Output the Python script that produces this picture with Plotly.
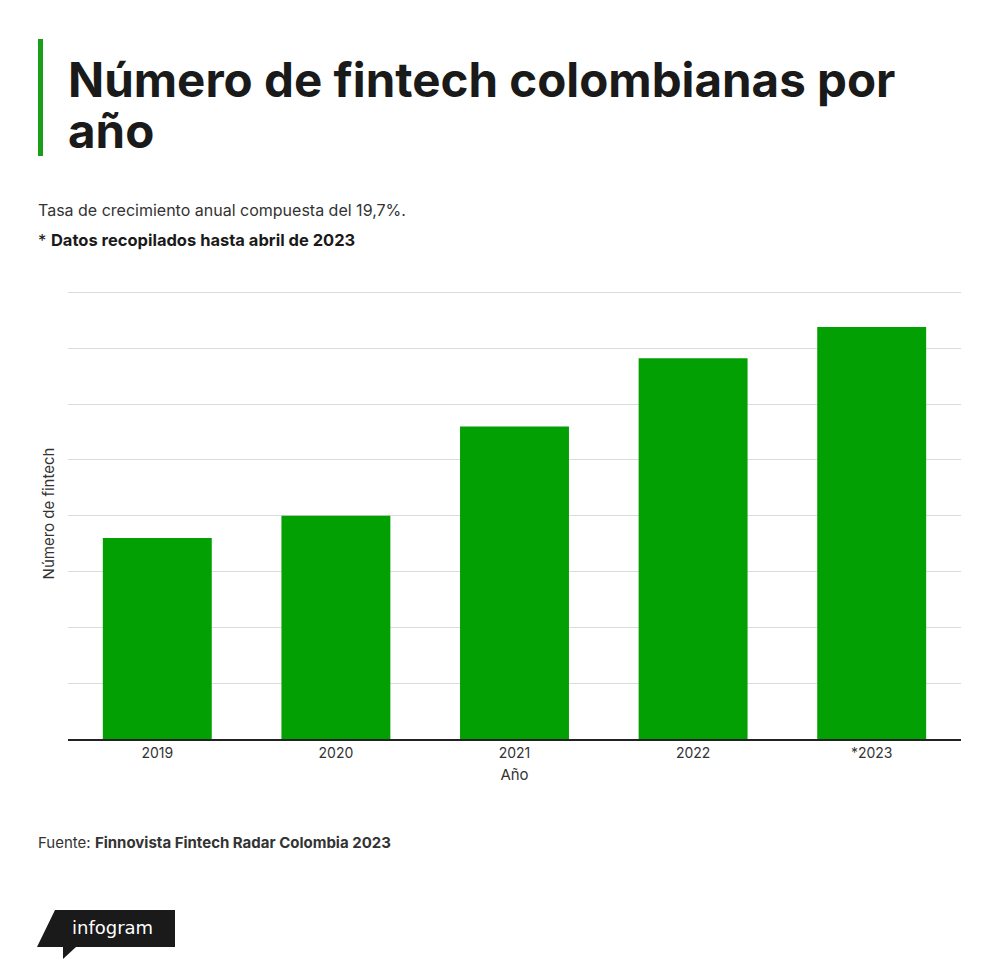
import plotly.graph_objects as go

# data
years = ["2019", "2020", "2021", "2022", "*2023"]
fintechs = [180, 200, 280, 341, 369]

# page body adds an 8px margin, so work in page pixels and shift back
OFF = 8
YMAX = 404  # a bit above 400 so the top gridline gets drawn
W, H = 1000 - OFF, 978 - OFF
L = 68 - OFF
T = round(292 - (YMAX - 400) * 447 / 400) - OFF
R = W - (961 - OFF)
B = H - (739 - OFF)
PW, PH = W - L - R, H - T - B


def px(x):
    return (x - OFF - L) / PW


def py(y):
    return (H - B - (y - OFF)) / PH


GREEN = "#03a003"
FONT = "Inter"

fig = go.Figure()

fig.add_trace(
    go.Bar(
        x=years,
        y=fintechs,
        marker=dict(color=GREEN, line=dict(width=0)),
        name="Número de fintech",
        hovertemplate="%{x}: %{y}<extra></extra>",
    )
)

fig.update_layout(
    width=W,
    height=H,
    margin=dict(l=L, r=R, t=T, b=B),
    paper_bgcolor="white",
    plot_bgcolor="white",
    showlegend=False,
    bargap=0.39,
    font=dict(family=FONT, color="#333333", size=14),
    xaxis=dict(
        title=dict(text="Año", font=dict(size=15, color="#333333"), standoff=10),
        tickfont=dict(size=14, color="#333333"),
        showline=True,
        linecolor="#222222",
        linewidth=2,
        ticks="",
        showgrid=False,
    ),
    yaxis=dict(
        title=dict(text="Número de fintech", font=dict(size=15, color="#333333"), standoff=8),
        range=[0, YMAX],
        tick0=0,
        dtick=50,
        showticklabels=False,
        showgrid=True,
        gridcolor="#dcdcdc",
        gridwidth=1,
        zeroline=False,
        ticks="",
    ),
)

# title block
fig.add_shape(type="rect", xref="paper", yref="paper",
              x0=px(38), x1=px(43), y0=py(156), y1=py(39),
              fillcolor="#1a9e1a", line=dict(width=0))
fig.add_annotation(text="<b>Número de fintech colombianas por</b>", xref="paper", yref="paper",
                   x=px(66), y=py(79), xanchor="left", yanchor="middle", showarrow=False,
                   font=dict(family=FONT, size=47.5, color="#1a1a1a", weight=800))
fig.add_annotation(text="<b>año</b>", xref="paper", yref="paper",
                   x=px(66), y=py(130), xanchor="left", yanchor="middle", showarrow=False,
                   font=dict(family=FONT, size=47.5, color="#1a1a1a", weight=800))
fig.add_annotation(text="Tasa de crecimiento anual compuesta del 19,7%.", xref="paper", yref="paper",
                   x=px(36), y=py(210), xanchor="left", yanchor="middle", showarrow=False,
                   font=dict(family=FONT, size=16, color="#333333"))
fig.add_annotation(text="* <b>Datos recopilados hasta abril de 2023</b>", xref="paper", yref="paper",
                   x=px(36), y=py(240), xanchor="left", yanchor="middle", showarrow=False,
                   font=dict(family=FONT, size=16.5, color="#1a1a1a"))

# source
fig.add_annotation(text="Fuente: <b>Finnovista Fintech Radar Colombia 2023</b>", xref="paper", yref="paper",
                   x=px(36), y=py(842), xanchor="left", yanchor="middle", showarrow=False,
                   font=dict(family=FONT, size=15, color="#333333"))

# infogram badge
pts = [(55, 910), (175, 910), (175, 947), (76, 947), (63, 959), (63, 947), (37, 947)]
path = "M " + " L ".join(f"{px(x):.5f},{py(y):.5f}" for x, y in pts) + " Z"
fig.add_shape(type="path", xref="paper", yref="paper", path=path,
              fillcolor="#1a1a1a", line=dict(width=0))
fig.add_annotation(text="infogram", xref="paper", yref="paper",
                   x=px(112), y=py(927), xanchor="center", yanchor="middle", showarrow=False,
                   font=dict(family="DejaVu Sans", size=18, color="white"))

fig.write_html("out.html")
